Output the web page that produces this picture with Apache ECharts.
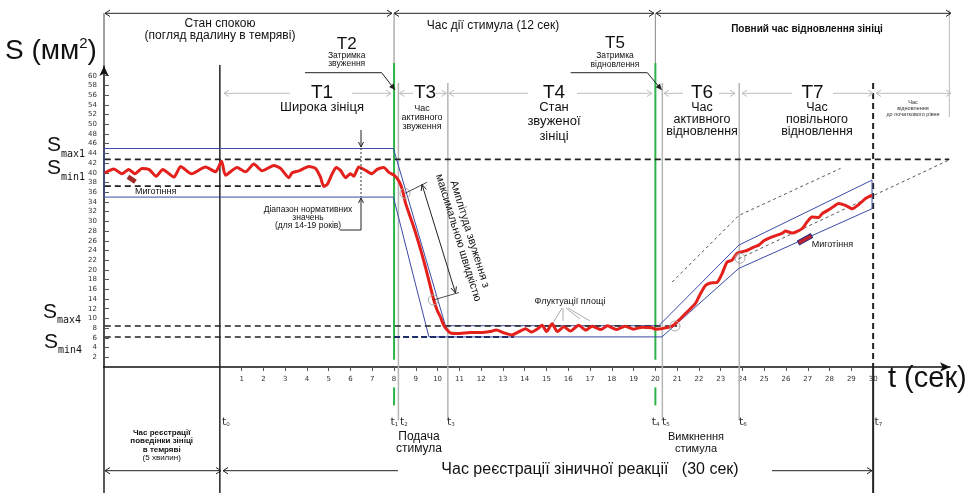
<!DOCTYPE html>
<html><head><meta charset="utf-8">
<script src="https://cdn.jsdelivr.net/npm/echarts@6/dist/echarts.min.js"></script>
<style>html,body{margin:0;padding:0;background:#fff}#c{width:971px;height:493px}</style>
</head><body><div id="c"></div>
<script>
// ---- data (seconds, mm^2) ----
const pupilTime = [-5.28,-4.87,-4.5,-4.18,-3.9,-3.57,-3.26,-2.92,-2.62,-2.11,-1.8,-1.3,-0.66,-0.2,0.08,0.26,0.79,1.18,1.56,1.94,2.48,2.79,3.17,3.32,3.63,4.09,4.39,4.62,4.77,4.93,5.16,5.34,5.54,5.77,6.0,6.15,6.38,6.69,6.99,7.22,7.53,7.76,8.0,8.22,8.37,8.53,8.83,9.14,9.44,9.67,9.83,9.98,10.13,10.28,10.44,10.59,11.0,11.5,12.0,12.4,12.7,13.0,13.4,13.7,14.04,14.3,14.6,14.8,15.0,15.26,15.5,15.8,16.1,16.48,16.8,17.1,17.5,17.8,18.2,18.6,19.0,19.4,19.85,20.0,20.3,20.77,21.07,21.38,21.84,22.07,22.3,22.53,22.83,23.06,23.29,23.52,23.75,24.14,24.52,24.75,24.98,25.36,25.82,25.97,26.28,26.74,26.97,27.19,27.5,27.66,28.04,28.42,28.73,29.04,29.35,29.65,29.95];
const pupilArea = [40.0,40.8,39.8,40.7,39.8,40.9,40.7,39.3,40.7,39.1,41.3,39.8,41.2,40.2,42.4,39.5,41.1,40.2,41.8,40.4,41.5,40.9,39.0,40.0,40.4,41.3,40.9,39.1,37.2,37.6,39.8,41.1,40.5,39.0,39.8,39.3,41.2,40.5,39.8,40.7,41.1,40.1,39.5,38.3,36.7,33.7,29.8,25.4,20.6,16.5,13.7,11.7,10.3,8.6,7.6,7.0,6.9,7.1,7.1,7.3,7.6,7.1,6.6,7.2,7.9,7.2,7.9,8.6,7.3,8.9,7.3,8.3,7.4,8.6,7.6,8.4,7.7,8.5,7.7,8.4,7.8,8.2,8.1,7.8,7.9,8.4,9.6,11.0,13.1,15.1,16.8,17.3,17.4,19.2,21.6,22.0,23.4,23.9,24.7,25.1,26.0,26.8,27.5,28.0,27.6,28.5,29.9,30.9,30.8,31.6,32.6,33.7,33.3,32.6,33.5,34.7,35.4];
const upperTime = [-5.32,7.97,10.36,20.16,23.83,29.95];
const upperArea = [45,45,8.5,8.5,25.1,38.5];
const lowerTime = [-5.32,7.97,9.6,20.3,23.83,29.95];
const lowerArea = [35,35,6.2,6.2,20.3,32.6];
const levelNames = ['max1','min1','max4','min4'];
const levelValues = [42.76,37.26,8.45,6.19];
const levelEnds = [33.5,4.8,21,8];
const eventNames = ['0','1','2','3','4','5','6','7'];
const eventTimes = [0,8,8.2,10.47,20,20.32,23.85,30];
const xTickLabels = [1,2,3,4,5,6,7,8,9,10,11,12,13,14,15,16,17,18,19,20,21,22,23,24,25,26,27,28,29,30];
const yTickLabels = [2,4,6,8,10,12,14,16,18,20,22,24,26,28,30,32,34,36,38,40,42,44,46,48,50,52,54,56,58,60];
const guideFastTime = [20.77,23.83,28.5];
const guideFastArea = [17.5,31.2,40.9];
const guideSlowTime = [23.83,33.47];
const guideSlowArea = [22.3,42.6];

const GREEN='#2db34a', NAVY='#3b4ba8', GRAY='#b5b5b5', DARK='#222', RED='#e3201b';
const FF='"Liberation Sans", Arial, sans-serif';
const zip=(a,b)=>a.map((v,i)=>[v,b[i]]);
function seg(pts,color,width,type,z){return {type:'line',data:pts,symbol:'none',clip:false,silent:true,animation:false,lineStyle:{color:color,width:width,type:type||'solid'},z:z||2};}

const series=[];
// vertical event / frame lines
series.push(seg([[eventTimes[0],62.2],[eventTimes[0],-26]],DARK,1.5));
series.push(seg([[-5.32,0],[-5.32,-26]],DARK,1.5));
series.push(seg([[-5.32,62],[-5.32,72.9]],'#444',1));
series.push(seg([[-5.97,0],[-5.32,0]],DARK,1.5));
[eventTimes[1],eventTimes[4]].forEach(t=>{
  series.push(seg([[t,72.9],[t,62.6]],'#888',1));
  series.push(seg([[t,62.6],[t,1.5]],GREEN,2));
  series.push(seg([[t,-4.2],[t,-7.9]],GREEN,2));
});
[eventTimes[2],eventTimes[3],eventTimes[5],eventTimes[6]].forEach(t=>series.push(seg([[t,58.5],[t,-11]],GRAY,1.5,'solid',1)));
series.push(seg([[eventTimes[7],58.5],[eventTimes[7],0]],DARK,2,[6,4]));
series.push(seg([[eventTimes[7],0],[eventTimes[7],-26]],DARK,2));
series.push(seg([[33.5,73.5],[33.5,51.5]],'#bbb',1));
// threshold levels
levelValues.forEach((v,i)=>series.push(seg([[-7.12,v],[levelEnds[i],v]],DARK,1.6,[6,4],3)));
series.push(seg([[8,levelValues[3]],[13.5,levelValues[3]]],'#1f2d6b',2,[6,3],3));
// envelope
series.push(seg(zip(upperTime,upperArea),NAVY,1));
series.push(seg(zip(lowerTime,lowerArea),NAVY,1));
series.push(seg([[upperTime[0],upperArea[0]],[lowerTime[0],lowerArea[0]]],NAVY,1));
series.push(seg([[upperTime[5],upperArea[5]],[lowerTime[5],lowerArea[5]]],NAVY,1));
// recovery guides
series.push(seg(zip(guideFastTime,guideFastArea),'#555',1,[3,3]));
series.push(seg(zip(guideSlowTime,guideSlowArea),'#555',1,[3,3]));
// pupil curve
series.push({type:'line',data:zip(pupilTime,pupilArea),symbol:'none',smooth:0.2,clip:false,silent:true,animation:false,lineStyle:{color:RED,width:3},z:6});

// ---- graphic helpers (pixel annotations) ----
const G=[];
function T(x,y,text,o){G.push({type:'text',x:x,y:y,z:20,silent:true,style:Object.assign({text:text,fontFamily:FF,fontSize:12,fill:'#111',align:'center',verticalAlign:'middle'},o||{})});}
function L(points,color,w,dash){G.push({type:'polyline',z:15,silent:true,shape:{points:points},style:{stroke:color,lineWidth:w||1,fill:null,lineDash:dash||null}});}
function head(x1,y1,x2,y2,color,len,w,filled){len=len||6;w=w||3.2;const dx=x2-x1,dy=y2-y1,Lh=Math.hypot(dx,dy),ux=dx/Lh,uy=dy/Lh;const bx=x2-ux*len,by=y2-uy*len;const p1=[bx-uy*w,by+ux*w],p2=[bx+uy*w,by-ux*w];
  if(filled)G.push({type:'polygon',z:16,silent:true,shape:{points:[p1,[x2,y2],p2]},style:{fill:color}});
  else G.push({type:'polyline',z:16,silent:true,shape:{points:[p1,[x2,y2],p2]},style:{stroke:color,lineWidth:1,fill:null}});}
function hArrow(x1,x2,y,color,hl,hr,gap){
  if(gap){L([[x1,y],[gap[0],y]],color,1);L([[gap[1],y],[x2,y]],color,1);}else L([[x1,y],[x2,y]],color,1);
  if(hl)head(x1+8,y,x1,y,color,5,3.2);if(hr)head(x2-8,y,x2,y,color,5,3.2);}

// top brackets
hArrow(105,392,13.3,DARK,true,true);
hArrow(394,654,13.3,DARK,true,true);
hArrow(656,951,13.3,DARK,true,true);
T(220,24,'Стан спокою',{fontSize:12});
T(220,36,'(погляд вдалину в темряві)',{fontSize:12});
T(493,26,'Час дії стимула (12 сек)',{fontSize:12});
T(807,29,'Повний час відновлення зініці',{fontSize:10,fontWeight:'bold'});
// S label
G.push({type:'text',x:5,y:51,z:20,silent:true,style:{text:'{a|S (мм}{b|2}{a|)}',align:'left',verticalAlign:'middle',rich:{a:{fontFamily:FF,fontSize:28,lineHeight:30,fill:'#111'},b:{fontFamily:FF,fontSize:15,lineHeight:15,verticalAlign:'top',fill:'#111'}}}});
// S levels
const lvlPos=[[47,145],[47,168],[43,311.5],[44,341.5]];
levelNames.forEach((n,i)=>G.push({type:'text',x:lvlPos[i][0],y:lvlPos[i][1],z:20,silent:true,style:{text:'{s|S}{u|'+n+'}',align:'left',verticalAlign:'middle',rich:{s:{fontFamily:FF,fontSize:21,lineHeight:22,fill:'#111',verticalAlign:'bottom'},u:{fontFamily:'"DejaVu Sans Mono", monospace',fontSize:10,lineHeight:10,verticalAlign:'bottom',padding:[0,0,-3,0],fill:'#111'}}}}));
// T2 / T5
T(346.7,44,'Т2',{fontSize:17});T(346.7,56,'Затримка',{fontSize:8.5});T(346.7,64,'звуження',{fontSize:8.5});
L([[305,72.7],[381.7,72.7],[395,90]],DARK,1);head(381.7,72.7,395,90,DARK,6,2.8,true);
T(615,43.3,'Т5',{fontSize:17});T(615,56,'Затримка',{fontSize:8.5});T(615,65,'відновлення',{fontSize:8.5});
L([[570.7,72.7],[647.3,72.7],[661.7,90]],DARK,1);head(647.3,72.7,661.7,90,DARK,6,2.8,true);
// T dimension arrows
const LG='#bdbdbd';
hArrow(224,391,93.3,LG,true,true,[290,352]);T(322,93,'Т1',{fontSize:19});T(322,107,'Широка зініця',{fontSize:13});
hArrow(399.5,446.5,93.3,LG,true,true,[413,436]);T(425,93,'Т3',{fontSize:19});
T(422,117.5,'Час\nактивного\nзвуження',{fontSize:9,lineHeight:9.3});
hArrow(449,652,93.3,LG,true,true,[528,577]);T(554,93,'Т4',{fontSize:19});
T(554,121.7,'Стан\nзвуженої\nзініці',{fontSize:13,lineHeight:14.5});
hArrow(664,735,93.3,LG,true,true,[683,719]);T(702,93,'Т6',{fontSize:19});
T(702,119.7,'Час\nактивного\nвідновлення',{fontSize:12.5,lineHeight:12.2});
hArrow(742,873,93.3,LG,true,true,[792,833]);T(812.5,93,'Т7',{fontSize:19});
T(817,119.7,'Час\nповільного\nвідновлення',{fontSize:12.5,lineHeight:12.2});
hArrow(876,951,93.3,LG,true,true);
T(913,108.5,'Час\nвідновлення\nдо початкового рівня',{fontSize:5.5,lineHeight:5.8,fill:'#333'});
// normative range
T(308,217.5,'Діапазон нормативних\nзначень\n(для 14-19 років)',{fontSize:8.5,lineHeight:8});
L([[361,130],[361,147]],DARK,1);head(361,135,361,147,DARK,5,2.5);
L([[361,148],[361,197]],'#333',1,[2,2]);
L([[340,230],[361,230],[361,198]],DARK,1);head(361,212,361,198,DARK,5,2.5);
// blink markers
G.push({type:'rect',x:131.7,y:179.3,rotation:-0.6,z:18,silent:true,shape:{x:-4.5,y:-2.4,width:9,height:4.8},style:{fill:'#a52a2a'}});
T(135,191.7,'Миготіння',{fontSize:9,align:'left'});
G.push({type:'rect',x:805,y:239.3,rotation:0.5,z:18,silent:true,shape:{x:-7.5,y:-2.2,width:15,height:4.4},style:{fill:'#c0242a',stroke:'#2a2a80',lineWidth:1}});
T(811.7,244.3,'Миготіння',{fontSize:9,align:'left'});
// amplitude
[[405,193.3],[433.3,300],[675,326],[740,258.3]].forEach(p=>G.push({type:'circle',z:14,silent:true,shape:{cx:p[0],cy:p[1],r:5},style:{stroke:'#aaa',fill:null,lineWidth:1}}));
L([[405,193.3],[427,182.3]],DARK,0.8);L([[433.3,300],[459,292.5]],DARK,0.8);
L([[422,184.5],[455.5,293]],DARK,1);head(455.5,293,422,184.5,DARK,6,2.8);head(422,184.5,455.5,293,DARK,6,2.8);
G.push({type:'text',x:464,y:236,rotation:-72.8*Math.PI/180,z:20,silent:true,style:{text:'Амплітуда звуження з\nмаксимальною швидкістю',fontFamily:FF,fontSize:11,lineHeight:12,fill:'#111',align:'center',verticalAlign:'middle'}});
// fluctuations
T(570,301.7,'Флуктуації площі',{fontSize:9});
L([[562,308],[553,323]],'#aaa',1);L([[563,308],[563,321]],'#aaa',1);L([[568,308],[590,321]],'#aaa',1);L([[566,308],[580,319]],'#aaa',1);
// t labels
const tLeft=[222,390.5,400,447,651.7,662,739,874.5];
eventNames.forEach((n,i)=>G.push({type:'text',x:tLeft[i],y:421.7,z:20,silent:true,style:{text:'{t|t}{s|'+n+'}',align:'left',verticalAlign:'middle',rich:{t:{fontFamily:'"DejaVu Sans", sans-serif',fontSize:11,lineHeight:12,fill:'#333',verticalAlign:'bottom'},s:{fontFamily:'"DejaVu Sans", sans-serif',fontSize:5.5,lineHeight:6,fill:'#333',verticalAlign:'bottom'}}}}));
T(419,443,'Подача\nстимула',{fontSize:12,lineHeight:12});
T(696,443,'Вимкнення\nстимула',{fontSize:11,lineHeight:12});
T(161.7,441,'Час реєстрації\nповедінки зініці\nв темряві',{fontSize:8,lineHeight:8.3,fontWeight:'bold'});
T(161.7,457.5,'(5 хвилин)',{fontSize:8});
hArrow(105,221,470.7,DARK,true,true);
hArrow(223,398,470.7,DARK,true,false);
T(590,470,'Час реєстрації зіничної реакції   (30 сек)',{fontSize:16});
hArrow(772,872,470.7,DARK,false,true);
T(888,379,'t (сек)',{fontSize:29,align:'left'});

const chart=echarts.init(document.getElementById('c'),null,{renderer:'canvas'});
chart.setOption({
  animation:false,
  backgroundColor:'#fff',
  grid:{left:104,right:21,top:66,bottom:126},
  xAxis:{type:'value',min:-5.32,max:33.53,
    axisLine:{show:true,onZero:false,symbol:['none','arrow'],symbolSize:[7,10],lineStyle:{color:'#111',width:1.5}},
    axisTick:{show:true,length:4,customValues:xTickLabels,lineStyle:{color:'#555'}},
    axisLabel:{show:true,customValues:xTickLabels,fontSize:7,color:'#333',margin:9,fontFamily:'"DejaVu Sans", sans-serif'},
    splitLine:{show:false}},
  yAxis:{type:'value',min:0,max:62,
    axisLine:{show:true,onZero:false,symbol:['none','arrow'],symbolSize:[7,10],lineStyle:{color:'#111',width:1.5}},
    axisTick:{show:true,inside:true,length:5,customValues:yTickLabels,lineStyle:{color:'#555'}},
    axisLabel:{show:true,customValues:yTickLabels,fontSize:7,color:'#333',margin:7,fontFamily:'"DejaVu Sans", sans-serif'},
    splitLine:{show:false}},
  series:series,
  graphic:G
});
</script></body></html>
